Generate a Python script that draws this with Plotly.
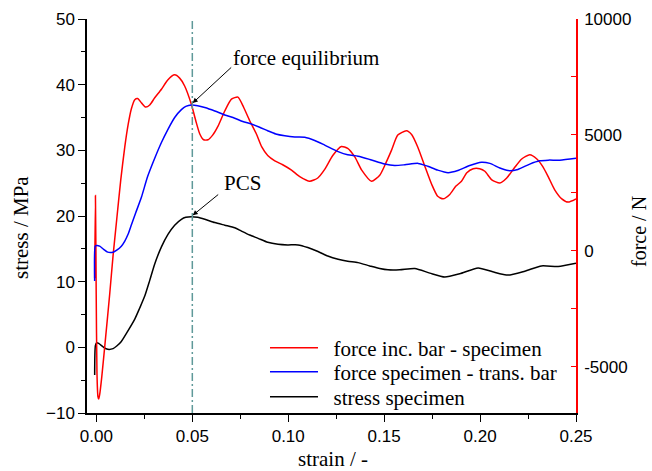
import plotly.graph_objects as go

# ---- data ----
strain_red = [-0.0009, -0.0005, -0.0001, 0.0003, 0.0008, 0.0012, 0.0017, 0.0028, 0.0048, 0.0069,
              0.0087, 0.0106, 0.0127, 0.0148, 0.0166, 0.0182, 0.0200, 0.0215, 0.0236, 0.0257,
              0.0278, 0.0304, 0.0339, 0.0372, 0.0408, 0.0434, 0.0460, 0.0495, 0.0518, 0.0539,
              0.0559, 0.0582, 0.0606, 0.0634, 0.0669, 0.0704, 0.0738, 0.0768, 0.0799, 0.0834,
              0.0862, 0.0893, 0.0930, 0.0971, 0.1017, 0.1060, 0.1112, 0.1154, 0.1190, 0.1232,
              0.1277, 0.1310, 0.1347, 0.1383, 0.1434, 0.1477, 0.1508, 0.1538, 0.1571, 0.1616,
              0.1644, 0.1675, 0.1712, 0.1748, 0.1779, 0.1807, 0.1842, 0.1873, 0.1903, 0.1931,
              0.1964, 0.1998, 0.2025, 0.2061, 0.2103, 0.2139, 0.2181, 0.2217, 0.2259, 0.2296,
              0.2327, 0.2355, 0.2389, 0.2426, 0.2459, 0.2500]
force_red = [-1190, 2380, -1900, -5300, -6290, -6400, -6210, -5440, -3740, -1900,
             -200, 1360, 3060, 4480, 5470, 6120, 6520, 6570, 6370, 6200,
             6290, 6600, 6970, 7370, 7590, 7450, 7110, 6320, 5610, 5040,
             4790, 4790, 4990, 5380, 6030, 6540, 6630, 6180, 5610, 5040,
             4480, 4110, 3880, 3710, 3480, 3200, 3000, 3140, 3510, 4110,
             4500, 4420, 4050, 3480, 3000, 3260, 3770, 4330, 4990, 5180,
             5010, 4480, 3650, 2860, 2350, 2240, 2430, 2780, 3000, 3370,
             3540, 3540, 3430, 3060, 2920, 3140, 3600, 3960, 4140, 3960,
             3630, 3200, 2630, 2240, 2100, 2240]

strain_blue = [-0.0009, -0.0006, 0.0002, 0.0017, 0.0038, 0.0059, 0.0087, 0.0106, 0.0130, 0.0148,
               0.0165, 0.0184, 0.0205, 0.0235, 0.0267, 0.0304, 0.0339, 0.0373, 0.0408, 0.0443,
               0.0466, 0.0495, 0.0528, 0.0565, 0.0617, 0.0669, 0.0721, 0.0763, 0.0808, 0.0851,
               0.0893, 0.0935, 0.0982, 0.1034, 0.1086, 0.1138, 0.1190, 0.1260, 0.1310, 0.1364,
               0.1425, 0.1503, 0.1555, 0.1608, 0.1677, 0.1727, 0.1779, 0.1833, 0.1884, 0.1946,
               0.2007, 0.2051, 0.2103, 0.2146, 0.2197, 0.2259, 0.2311, 0.2355, 0.2416, 0.2500]
force_blue = [-1300, 200, 230, 200, 60, -60, -60, 30, 200, 420,
              710, 1160, 1640, 2320, 3200, 3990, 4670, 5240, 5750, 6090,
              6230, 6290, 6260, 6180, 6030, 5860, 5720, 5580, 5470, 5330,
              5180, 5040, 4960, 4910, 4900, 4760, 4560, 4280, 4140, 4080,
              3940, 3740, 3680, 3710, 3770, 3650, 3480, 3370, 3460, 3680,
              3820, 3770, 3570, 3460, 3510, 3740, 3880, 3910, 3910, 3990]

strain_black = [-0.0009, -0.0005, 0.0002, 0.0012, 0.0038, 0.0059, 0.0087, 0.0106, 0.0130, 0.0158,
                0.0200, 0.0226, 0.0252, 0.0278, 0.0304, 0.0339, 0.0373, 0.0408, 0.0443, 0.0466,
                0.0495, 0.0528, 0.0565, 0.0617, 0.0669, 0.0721, 0.0756, 0.0799, 0.0843, 0.0893,
                0.0947, 0.0997, 0.1051, 0.1102, 0.1155, 0.1206, 0.1260, 0.1310, 0.1364, 0.1425,
                0.1477, 0.1520, 0.1581, 0.1660, 0.1738, 0.1816, 0.1894, 0.1990, 0.2066, 0.2146,
                0.2233, 0.2320, 0.2407, 0.2500]
stress_black = [-4.2, 0.3, 0.7, 0.6, 0.0, -0.3, -0.2, 0.2, 0.9, 2.2,
                4.3, 6.0, 7.8, 10.2, 12.7, 15.3, 17.2, 18.6, 19.5, 19.8,
                19.9, 19.8, 19.5, 19.0, 18.6, 18.2, 17.7, 17.1, 16.6, 16.0,
                15.7, 15.6, 15.6, 15.2, 14.6, 13.9, 13.4, 13.1, 12.9, 12.4,
                12.0, 11.8, 11.8, 12.0, 11.3, 10.7, 11.2, 12.1, 11.5, 11.0,
                11.6, 12.4, 12.3, 12.8]

x_ticks = [0.0, 0.05, 0.10, 0.15, 0.20, 0.25]
stress_ticks = [-10, 0, 10, 20, 30, 40, 50]
force_ticks = [-5000, 0, 5000, 10000]
force_ticktext = ["-5000", "0", "5000", "10000"]
equilibrium_strain = 0.05

serif = "Liberation Serif"
sans = "Liberation Sans"
TFS = 21   # serif text size
NBSP = "\u00a0\u00a0"

fig = go.Figure()
fig.add_trace(go.Scatter(x=strain_red, y=force_red, yaxis="y2", mode="lines", legend="legend",
                         name=NBSP + "force inc. bar - specimen",
                         line=dict(color="#ff0000", width=1.5, shape="spline", smoothing=0.6)))
fig.add_trace(go.Scatter(x=strain_blue, y=force_blue, yaxis="y2", mode="lines", legend="legend2",
                         name=NBSP + "force specimen - trans. bar",
                         line=dict(color="#0000ff", width=1.5, shape="spline", smoothing=0.6)))
fig.add_trace(go.Scatter(x=strain_black, y=stress_black, yaxis="y", mode="lines", legend="legend3",
                         name=NBSP + "stress specimen",
                         line=dict(color="#000000", width=1.5, shape="spline", smoothing=0.6)))

fig.add_shape(type="line", xref="x", yref="paper", x0=equilibrium_strain, x1=equilibrium_strain,
              y0=0, y1=1, line=dict(color="#5f9999", width=1.5, dash="8px,3px,2px,3px"))

# annotations
fig.add_annotation(x=0.0700, y=44.0, xref="x", yref="y", text="force equilibrium",
                   showarrow=False, xanchor="left", yanchor="middle",
                   font=dict(family=serif, size=TFS, color="black"))
fig.add_annotation(x=0.0502, y=37.2, xref="x", yref="y", text=" ", font=dict(size=1),
                   showarrow=True, ax=40, ay=-37, arrowhead=2, arrowsize=1, arrowwidth=1,
                   arrowcolor="black")
fig.add_annotation(x=0.0653, y=25.0, xref="x", yref="y", text="PCS",
                   showarrow=False, xanchor="left", yanchor="middle",
                   font=dict(family=serif, size=TFS, color="black"))
fig.add_annotation(x=0.0502, y=20.1, xref="x", yref="y", text=" ", font=dict(size=1),
                   showarrow=True, ax=27, ay=-22, arrowhead=2, arrowsize=1, arrowwidth=1,
                   arrowcolor="black")

# axis titles (placed as annotations in pixel-like paper coords)
PW, PH = 652 - 87 - 76, 471 - 19 - 58
fig.add_annotation(x=(21 - 87) / PW, y=(413 - 228) / PH, xref="paper", yref="paper",
                   text="stress / MPa", textangle=-90, showarrow=False,
                   xanchor="center", yanchor="middle",
                   font=dict(family=serif, size=TFS, color="black"))
fig.add_annotation(x=(639 - 87) / PW, y=(413 - 232) / PH, xref="paper", yref="paper",
                   text="force / N", textangle=-90, showarrow=False,
                   xanchor="center", yanchor="middle",
                   font=dict(family=serif, size=20, color="black"))
fig.add_annotation(x=(333 - 87) / PW, y=(413 - 459) / PH, xref="paper", yref="paper",
                   text="strain / -", showarrow=False,
                   xanchor="center", yanchor="middle",
                   font=dict(family=serif, size=TFS, color="black"))

leg_common = dict(x=0.364, xanchor="left", yanchor="middle", bgcolor="rgba(0,0,0,0)",
                  font=dict(family=serif, size=TFS, color="black"), itemwidth=48)

fig.update_layout(
    width=652, height=471,
    margin=dict(l=87, r=76, t=19, b=58, autoexpand=False),
    paper_bgcolor="white", plot_bgcolor="white",
    showlegend=True,
    legend=dict(y=(413 - 348) / PH, **leg_common),
    legend2=dict(y=(413 - 372) / PH, **leg_common),
    legend3=dict(y=(413 - 397) / PH, **leg_common),
    xaxis=dict(range=[-0.0049, 0.25], tickvals=x_ticks, tickformat=".2f", automargin=False,
               ticks="outside", ticklen=7, tickwidth=1.3, tickcolor="black",
               minor=dict(dtick=0.025, tick0=0, ticks="outside", ticklen=4, tickcolor="black", tickwidth=1.3),
               showline=True, linecolor="black", linewidth=1.5, showgrid=False, zeroline=False,
               tickfont=dict(family=sans, size=17, color="black")),
    xaxis2=dict(overlaying="x", side="top", matches="x", tickvals=x_ticks, automargin=False,
                ticks="inside", ticklen=6, tickwidth=1.3, tickcolor="black",
                minor=dict(dtick=0.025, tick0=0, ticks="inside", ticklen=4, tickcolor="black", tickwidth=1.3),
                showticklabels=False, showline=True, linecolor="black", linewidth=1.5,
                showgrid=False, zeroline=False),
    yaxis=dict(range=[-10, 50], tickvals=stress_ticks, automargin=False,
               ticks="outside", ticklen=7, tickwidth=1.3, tickcolor="black",
               minor=dict(dtick=5, tick0=0, ticks="outside", ticklen=4, tickcolor="black", tickwidth=1.3),
               showline=True, linecolor="black", linewidth=1.5, showgrid=False, zeroline=False,
               tickfont=dict(family=sans, size=17, color="black")),
    yaxis3=dict(range=[-10, 50], overlaying="y", side="right", tickvals=stress_ticks, automargin=False,
                ticks="inside", ticklen=5, tickwidth=1.3, tickcolor="black",
                minor=dict(dtick=5, tick0=0, ticks="inside", ticklen=5, tickcolor="black", tickwidth=1.3),
                showticklabels=False, showline=False, showgrid=False, zeroline=False),
    yaxis2=dict(range=[-7000, 10000], overlaying="y", side="right", automargin=False,
                tickvals=force_ticks, ticktext=force_ticktext, ticklabelstandoff=3,
                ticks="inside", ticklen=5, tickwidth=1.3, tickcolor="#ff0000",
                minor=dict(dtick=2500, tick0=0, ticks="inside", ticklen=5, tickcolor="#ff0000", tickwidth=1.3),
                showline=True, linecolor="#ff0000", linewidth=1.5, showgrid=False, zeroline=False,
                tickfont=dict(family=sans, size=17, color="black")),
)

fig.write_html("out.html")
